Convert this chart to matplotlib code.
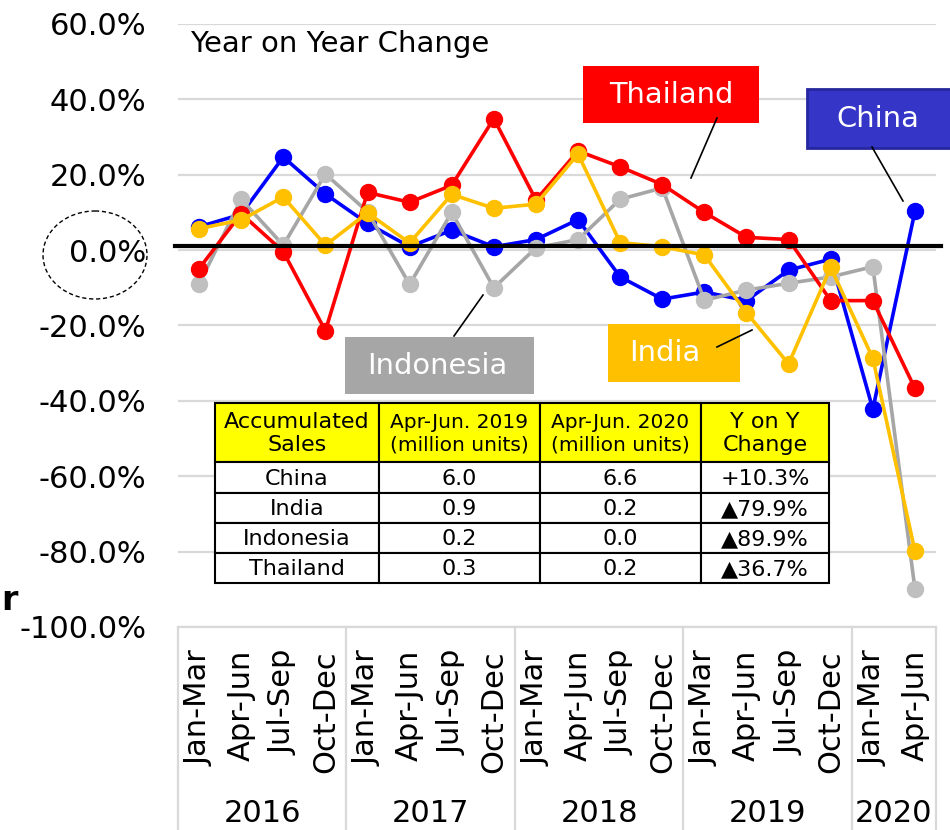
import matplotlib
matplotlib.use("Agg")
import matplotlib.pyplot as plt
from matplotlib.patches import Rectangle, Ellipse
from matplotlib.transforms import blended_transform_factory

plt.rcParams['font.family'] = ['DejaVu Sans']

# ---------------- data ----------------
quarters = ["Jan-Mar", "Apr-Jun", "Jul-Sep", "Oct-Dec"] * 4 + ["Jan-Mar", "Apr-Jun"]
years = ["2016", "2017", "2018", "2019", "2020"]
year_counts = [4, 4, 4, 4, 2]

china = [6.2, 9.5, 24.7, 14.9, 7.1, 0.9, 5.3, 0.9, 2.8, 8.1, -7.1, -13.0,
         -11.1, -13.4, -5.3, -2.4, -42.2, 10.3]
indonesia = [-9.0, 13.5, 1.3, 20.2, 10.2, -9.1, 10.0, -10.0, 0.6, 2.8, 13.5, 16.5,
             -13.3, -10.6, -8.8, -7.1, -4.4, -89.9]
thailand = [-4.9, 9.7, -0.4, -21.4, 15.3, 12.7, 17.2, 34.9, 13.3, 26.3, 22.1, 17.4,
            10.0, 3.4, 2.8, -13.4, -13.4, -36.7]
india = [5.7, 8.0, 14.1, 1.3, 9.9, 1.9, 14.8, 11.1, 12.2, 25.5, 2.0, 0.9,
         -1.3, -16.6, -30.2, -4.6, -28.7, -79.9]

yticks = [60, 40, 20, 0, -20, -40, -60, -80, -100]

table_header = ["Accumulated\nSales", "Apr-Jun. 2019\n(million units)",
                "Apr-Jun. 2020\n(million units)", "Y on Y\nChange"]
table_countries = ["China", "India", "Indonesia", "Thailand"]
sales_2019 = ["6.0", "0.9", "0.2", "0.3"]
sales_2020 = ["6.6", "0.2", "0.0", "0.2"]
yoy_change = ["+10.3%", "\u25B279.9%", "\u25B289.9%", "\u25B236.7%"]

# ---------------- figure ----------------
W, H = 950, 830
fig = plt.figure(figsize=(W / 100, H / 100), dpi=100)

L, R, T, B = 178, 936, 24, 627
ax = fig.add_axes([L / W, 1 - B / H, (R - L) / W, (B - T) / H])
x = list(range(len(quarters)))
ax.set_xlim(-0.5, len(quarters) - 0.5)
ax.set_ylim(-100, 60)

ax.set_yticks(yticks)
ax.set_yticklabels([f"{v:.1f}%" for v in yticks], fontsize=22)
ax.tick_params(axis='y', length=0, pad=23)
ax.set_xticks([])
ax.yaxis.grid(True, color='#D9D9D9', lw=1.6)
ax.set_axisbelow(True)
for s in ['top', 'right', 'left']:
    ax.spines[s].set_visible(False)
ax.spines['bottom'].set_color('#D9D9D9')
ax.spines['bottom'].set_linewidth(1.6)

series = [
    (china, '#0000FF', '#0000FF', 2),
    (indonesia, '#A6A6A6', '#BFBFBF', 3),
    (thailand, '#FF0000', '#FF0000', 4),
    (india, '#FFC000', '#FFC000', 5),
]
for vals, lc, mc, z in series:
    ax.plot(x, vals, color=lc, lw=2.6, marker='o', ms=11.5,
            markerfacecolor=mc, markeredgecolor=mc, zorder=z)

ax.axhline(1.0, xmin=-0.004, xmax=1.006, color='black', lw=3, zorder=10,
           clip_on=False)

# ---------------- category axis ----------------
bt = blended_transform_factory(ax.transData, fig.transFigure)
for xi, q in zip(x, quarters):
    ax.text(xi, 1 - 650 / H, q, transform=bt, rotation=90, ha='center',
            va='top', fontsize=22, clip_on=False)
start = 0
bounds = [-0.5]
for yr, cnt in zip(years, year_counts):
    center = start + (cnt - 1) / 2
    ax.text(center, 1 - 822 / H, yr, transform=bt, ha='center',
            va='baseline', fontsize=22, clip_on=False)
    start += cnt
    bounds.append(start - 0.5)
for bx in bounds:
    ax.plot([bx, bx], [1 - B / H, 0], transform=bt, color='#D9D9D9',
            lw=1.6, clip_on=False)

# ---------------- overlay in pixel coordinates ----------------
ov = fig.add_axes([0, 0, 1, 1], zorder=5)
ov.set_xlim(0, W)
ov.set_ylim(H, 0)
ov.axis('off')
ov.patch.set_alpha(0)

ov.text(190, 52, "Year on Year Change", fontsize=21, ha='left', va='baseline')
ov.add_patch(Ellipse((95, 255), 104, 88, fill=False, ls=(0, (3, 2)),
                     lw=1.0, ec='black'))
ov.text(1, 610, "r", fontsize=24, fontweight='bold', ha='left', va='baseline')


def callout(x0, y0, x1, y1, fc, text, tx, ty, ec=None, elw=0):
    ov.add_patch(Rectangle((x0, y0), x1 - x0, y1 - y0, facecolor=fc,
                           edgecolor=ec if ec else fc, lw=elw, clip_on=False))
    ov.text(tx, ty, text, color='white', fontsize=20.8, ha='center', va='center')


callout(583, 66, 759, 123, '#FF0000', "Thailand", 671, 95)
ov.plot([717, 691], [118, 178], color='black', lw=1.2)
callout(807, 89, 955, 148, '#3535C8', "China", 878, 119, ec='#26269E', elw=2)
ov.plot([872, 903], [147, 201], color='black', lw=1.2)
callout(608, 324, 740, 382, '#FFC000', "India", 665, 353)
ov.plot([717, 752], [347, 330], color='black', lw=1.2)
callout(345, 337, 534, 394, '#A6A6A6', "Indonesia", 437, 366)
ov.plot([454, 483], [336, 295], color='black', lw=1.2)

# ---------------- table ----------------
cols = [215, 379, 540, 701, 829]
rows = [403, 462, 493, 523, 553, 583]
for ci in range(4):
    ov.add_patch(Rectangle((cols[ci], rows[0]), cols[ci + 1] - cols[ci],
                           rows[1] - rows[0], facecolor='#FFFF00',
                           edgecolor='black', lw=1.5))
    fs = 16 if ci in (0, 3) else 14.5
    ov.text((cols[ci] + cols[ci + 1]) / 2, (rows[0] + rows[1]) / 2 + 1,
            table_header[ci], ha='center', va='center', fontsize=fs,
            linespacing=1.2)
body = list(zip(table_countries, sales_2019, sales_2020, yoy_change))
for ri, rowvals in enumerate(body):
    for ci, val in enumerate(rowvals):
        ov.add_patch(Rectangle((cols[ci], rows[ri + 1]),
                               cols[ci + 1] - cols[ci],
                               rows[ri + 2] - rows[ri + 1],
                               facecolor='white', edgecolor='black', lw=1.5))
        ov.text((cols[ci] + cols[ci + 1]) / 2,
                (rows[ri + 1] + rows[ri + 2]) / 2 + 1, val,
                ha='center', va='center', fontsize=16)

fig.savefig("out.png", dpi=100)
